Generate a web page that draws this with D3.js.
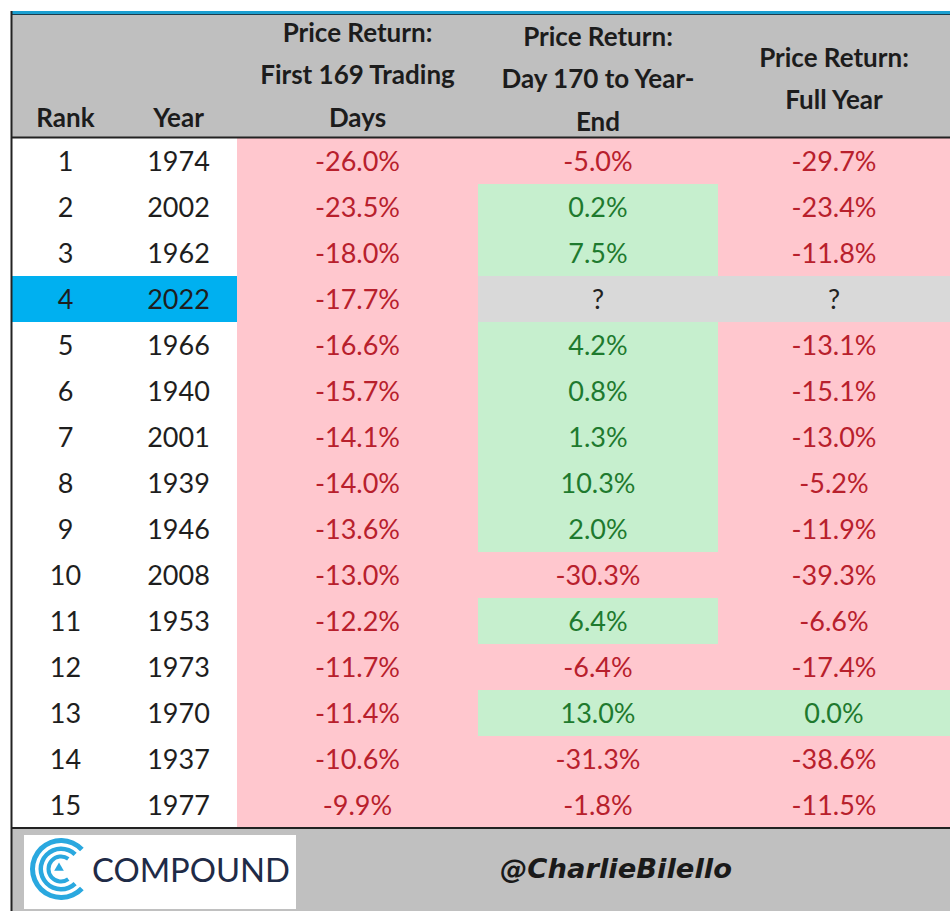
<!DOCTYPE html>
<html>
<head>
<meta charset="utf-8">
<script src="https://cdn.jsdelivr.net/npm/d3@7"></script>
<style>
  body { margin: 0; background: #fff; }
  svg { display: block; }
  .hdr { font-family: Lato, "Open Sans", sans-serif; font-weight: 700; font-size: 26px; fill: #1c1c1c; }
  .cell { font-family: Lato, "Open Sans", sans-serif; font-size: 27px; }
</style>
</head>
<body>
<div id="chart"></div>
<script>
// table data
var ranks = [1, 2, 3, 4, 5, 6, 7, 8, 9, 10, 11, 12, 13, 14, 15];
var years = [1974, 2002, 1962, 2022, 1966, 1940, 2001, 1939, 1946, 2008, 1953, 1973, 1970, 1937, 1977];
var first169 = [-26.0, -23.5, -18.0, -17.7, -16.6, -15.7, -14.1, -14.0, -13.6, -13.0, -12.2, -11.7, -11.4, -10.6, -9.9];
var day170ToEnd = [-5.0, 0.2, 7.5, null, 4.2, 0.8, 1.3, 10.3, 2.0, -30.3, 6.4, -6.4, 13.0, -31.3, -1.8];
var fullYear = [-29.7, -23.4, -11.8, null, -13.1, -15.1, -13.0, -5.2, -11.9, -39.3, -6.6, -17.4, 0.0, -38.6, -11.5];
var highlightYear = 2022;

var headers = [
  ['Rank'],
  ['Year'],
  ['Price Return:', 'First 169 Trading', 'Days'],
  ['Price Return:', 'Day 170 to Year-', 'End'],
  ['Price Return:', 'Full Year']
];

var W = 950, H = 911;
var left = 11, headTop = 15, headBottom = 138, footTop = 828;

var svg = d3.select('#chart').append('svg')
  .attr('width', W)
  .attr('height', H)
  .style('background', '#fff');

// column edges
var colEdges = [left, 120, 237, 478, 718, W];
var colX = function(i) { return colEdges[i]; };
var colW = function(i) { return colEdges[i + 1] - colEdges[i]; };
var colMid = function(i) { return (colEdges[i] + colEdges[i + 1]) / 2; };

var y = d3.scaleBand()
  .domain(ranks)
  .range([headBottom, footTop])
  .paddingInner(0);

// colours (Excel-ish conditional formatting)
var pinkFill = '#ffc7ce', pinkText = '#b8202c';
var greenFill = '#c6efce', greenText = '#1e7a2e';
var grayFill = '#d9d9d9';

function fillFor(v) {
  if (v === null) return grayFill;
  return v >= 0 ? greenFill : pinkFill;
}
function textFor(v) {
  if (v === null) return '#222';
  return v >= 0 ? greenText : pinkText;
}
function fmt(v) {
  return v === null ? '?' : v.toFixed(1) + '%';
}

// header background
svg.append('rect')
  .attr('x', left).attr('y', headTop)
  .attr('width', W - left).attr('height', headBottom - headTop)
  .attr('fill', '#bfbfbf');

// top border
svg.append('rect')
  .attr('x', left).attr('y', 11)
  .attr('width', W - left).attr('height', 3)
  .attr('fill', '#1c9fd0');
svg.append('line')
  .attr('x1', left).attr('x2', W)
  .attr('y1', 14.5).attr('y2', 14.5)
  .attr('stroke', '#1d3b4a').attr('stroke-width', 1);

// header text
var headerLineY = [
  [118],
  [118],
  [33, 75, 118],
  [37, 79, 122],
  [58, 100]
];
headers.forEach(function(lines, ci) {
  svg.selectAll(null)
    .data(lines)
    .enter().append('text')
    .attr('class', 'hdr')
    .attr('x', colMid(ci))
    .attr('y', function(d, li) { return headerLineY[ci][li]; })
    .attr('dy', '0.35em')
    .attr('text-anchor', 'middle')
    .text(function(d) { return d; });
});

// rows
var rows = ranks.map(function(r, i) {
  return { rank: r, year: years[i], a: first169[i], b: day170ToEnd[i], c: fullYear[i] };
});

var rowG = svg.selectAll('.row')
  .data(rows)
  .enter().append('g')
  .attr('class', 'row')
  .attr('transform', function(d) { return 'translate(0,' + y(d.rank) + ')'; });

// rank + year background
rowG.append('rect')
  .attr('x', colX(0) + 1)
  .attr('width', colEdges[2] - colEdges[0] - 1)
  .attr('height', y.bandwidth())
  .attr('fill', function(d) { return d.year === highlightYear ? '#00b0f0' : '#fff'; });

var valueCols = [{ key: 'a', ci: 2 }, { key: 'b', ci: 3 }, { key: 'c', ci: 4 }];

valueCols.forEach(function(vc) {
  rowG.append('rect')
    .attr('x', colX(vc.ci))
    .attr('width', colW(vc.ci))
    .attr('height', y.bandwidth())
    .attr('fill', function(d) { return fillFor(d[vc.key]); });
});

rowG.append('text')
  .attr('class', 'cell')
  .attr('x', colMid(0))
  .attr('y', y.bandwidth() / 2 + 1)
  .attr('dy', '0.35em')
  .attr('text-anchor', 'middle')
  .attr('fill', '#1e1e1e')
  .text(function(d) { return d.rank; });

rowG.append('text')
  .attr('class', 'cell')
  .attr('x', colMid(1))
  .attr('y', y.bandwidth() / 2 + 1)
  .attr('dy', '0.35em')
  .attr('text-anchor', 'middle')
  .attr('fill', '#1e1e1e')
  .text(function(d) { return d.year; });

valueCols.forEach(function(vc) {
  rowG.append('text')
    .attr('class', 'cell')
    .attr('x', colMid(vc.ci))
    .attr('y', y.bandwidth() / 2 + 1)
    .attr('dy', '0.35em')
    .attr('text-anchor', 'middle')
    .attr('fill', function(d) { return textFor(d[vc.key]); })
    .text(function(d) { return fmt(d[vc.key]); });
});

// header bottom line
svg.append('line')
  .attr('x1', left).attr('x2', W)
  .attr('y1', headBottom - 0.5).attr('y2', headBottom - 0.5)
  .attr('stroke', '#222').attr('stroke-width', 2);

// footer
svg.append('rect')
  .attr('x', left).attr('y', footTop)
  .attr('width', W - left).attr('height', H - footTop)
  .attr('fill', '#c0c0c0');
svg.append('line')
  .attr('x1', left).attr('x2', W)
  .attr('y1', footTop).attr('y2', footTop)
  .attr('stroke', '#222').attr('stroke-width', 2);

// left border
svg.append('line')
  .attr('x1', left + 0.5).attr('x2', left + 0.5)
  .attr('y1', 11).attr('y2', H)
  .attr('stroke', '#222').attr('stroke-width', 2);

// COMPOUND logo
var logo = svg.append('g');
logo.append('rect')
  .attr('x', 24).attr('y', 835)
  .attr('width', 272).attr('height', 74)
  .attr('fill', '#fff');

var arc = d3.arc();
var cx = 61, cy = 869;
// three arcs forming a "C", open on the right (gap centred at pi/2)
[[26, 31], [18, 22.5], [10.5, 14.5]].forEach(function(r, i) {
  var open = [0.75, 0.8, 0.95][i];
  logo.append('path')
    .attr('transform', 'translate(' + cx + ',' + cy + ')')
    .attr('d', arc({ innerRadius: r[0], outerRadius: r[1],
                     startAngle: Math.PI / 2 + open, endAngle: Math.PI / 2 + 2 * Math.PI - open }))
    .attr('fill', '#2aa8df');
});
logo.append('path')
  .attr('transform', 'translate(' + (cx - 2) + ',' + (cy - 1) + ')')
  .attr('d', d3.symbol().type(d3.symbolTriangle).size(40)())
  .attr('fill', '#2aa8df');

logo.append('text')
  .attr('x', 92).attr('y', 870)
  .attr('dy', '0.35em')
  .attr('textLength', 198)
  .attr('lengthAdjust', 'spacingAndGlyphs')
  .style('font-family', 'Lato, "Open Sans", sans-serif')
  .style('font-size', '33px')
  .style('font-weight', 400)
  .attr('fill', '#1f2b47')
  .text('COMPOUND');

svg.append('text')
  .attr('x', 500).attr('y', 869)
  .attr('dy', '0.35em')
  .attr('textLength', 232)
  .attr('lengthAdjust', 'spacingAndGlyphs')
  .style('font-family', '"DejaVu Sans", sans-serif')
  .style('font-size', '27px')
  .style('font-style', 'italic')
  .style('font-weight', 700)
  .attr('fill', '#1a1a1a')
  .text('@CharlieBilello');
</script>
</body>
</html>
